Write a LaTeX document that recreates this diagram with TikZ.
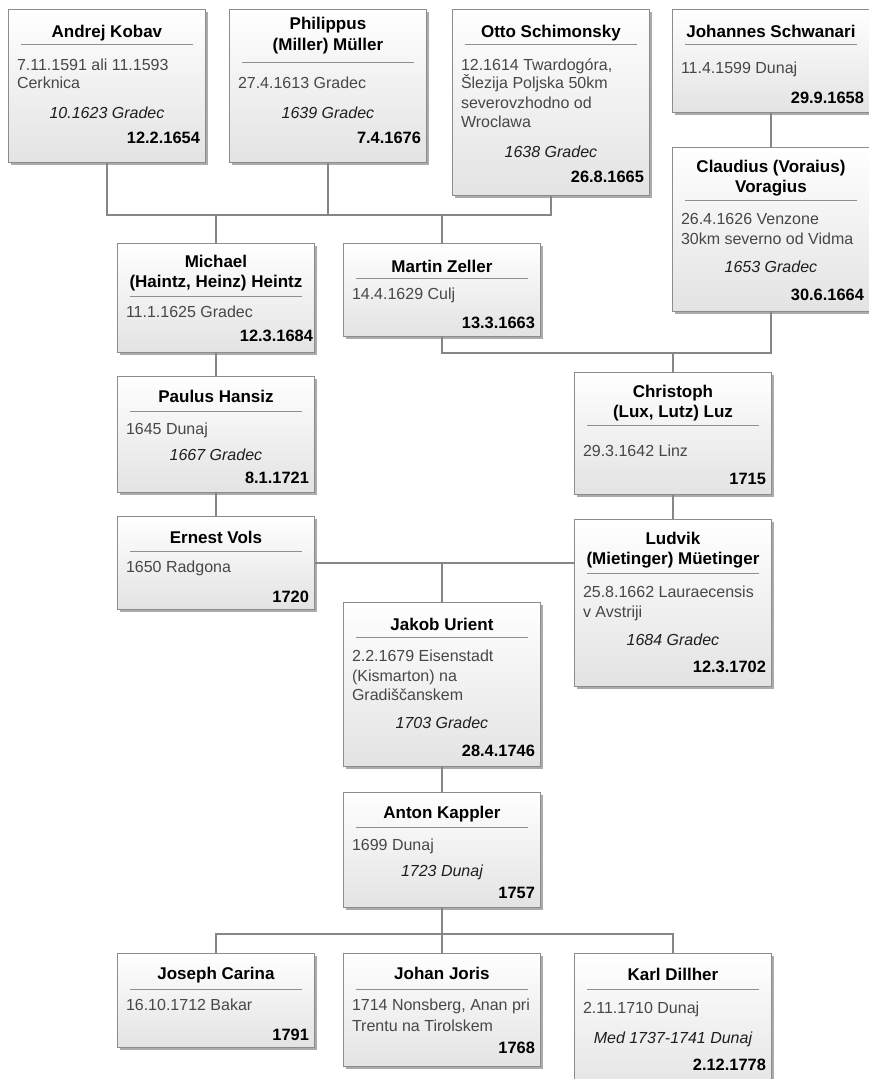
\documentclass[tikz,border=0pt]{standalone}
\usepackage{fontspec}
\setmainfont{Liberation Sans}
\usetikzlibrary{calc,shadows}
\definecolor{linec}{HTML}{868686}
\definecolor{bordc}{HTML}{8C8C8C}
\definecolor{bodyc}{HTML}{474747}
\definecolor{italc}{HTML}{1E1E1E}
\definecolor{rulec}{HTML}{8F8F8F}
\definecolor{boxbot}{HTML}{E3E3E3}
\definecolor{shadc}{HTML}{ABABAB}
\tikzset{
  pbox/.style={draw=bordc, line width=0.9pt, top color=white, bottom color=boxbot,
    minimum width=197pt, anchor=north west, inner sep=0pt,
    drop shadow={shadow xshift=2.2pt, shadow yshift=-2.2pt, fill=shadc, opacity=1}},
  txtbase/.style={inner sep=0pt, outer sep=0pt, text height=11.5pt, text depth=0pt},
  ttltxt/.style={txtbase, font=\fontsize{17}{20}\selectfont\bfseries, text=black},
  bodytxt/.style={txtbase, font=\fontsize{16}{19}\selectfont, text=bodyc, anchor=west},
  itxt/.style={txtbase, font=\fontsize{16}{19}\selectfont\itshape, text=italc},
  datetxt/.style={txtbase, font=\fontsize{16.4}{20}\selectfont\bfseries, text=black, anchor=east},
  sepline/.style={draw=rulec, line width=0.9pt},
  conn/.style={draw=linec, line width=1.2pt}
}
% #1 box, #2 suffix, #3 offset from top, #4 text
\newcommand\ptitle[4]{\node[ttltxt] (#1-#2) at ($(#1.north)+(0,#3)$) {#4};}
\newcommand\pbody[4]{\node[bodytxt] (#1-#2) at ($(#1.north west)+(9,#3)$) {#4};}
\newcommand\pital[4]{\node[itxt] (#1-#2) at ($(#1.north)+(0,#3)$) {#4};}
\newcommand\pdate[3]{\node[datetxt] (#1-d) at ($(#1.north east)+(-6,#2)$) {#3};}
\newcommand\psep[2]{\draw[sepline] ($(#1.north west)+(13,#2)$) -- ($(#1.north east)+(-13,#2)$);}
\begin{document}
\begin{tikzpicture}[x=1pt,y=-1pt]
\useasboundingbox (0,0) rectangle (869,1079);
% boxes as empty shapes first (named)
\begin{scope}
\path node[pbox, minimum height=153pt] (A) at (8,9) {}
      node[pbox, minimum height=153pt] (B) at (229,9) {}
      node[pbox, minimum height=186pt] (C) at (452,9) {}
      node[pbox, minimum height=103pt] (D) at (672,9) {}
      node[pbox, minimum height=164pt] (E) at (672,147) {}
      node[pbox, minimum height=109pt] (F) at (117,243) {}
      node[pbox, minimum height=93pt]  (G) at (343,243) {}
      node[pbox, minimum height=122pt] (H) at (574,372) {}
      node[pbox, minimum height=116pt] (I) at (117,376) {}
      node[pbox, minimum height=93pt]  (J) at (117,516) {}
      node[pbox, minimum height=167pt] (K) at (574,519) {}
      node[pbox, minimum height=164pt] (L) at (343,602) {}
      node[pbox, minimum height=115pt] (M) at (343,792) {}
      node[pbox, minimum height=94pt]  (N) at (117,953) {}
      node[pbox, minimum height=113pt] (O) at (343,953) {}
      node[pbox, minimum height=142pt] (P) at (574,953) {};
\end{scope}
% connectors
\coordinate (r1) at (0,215);
\coordinate (r2) at (0,353);
\coordinate (r3) at (0,563);
\coordinate (r4) at (0,934);
\draw[conn] (A.south) |- (C.south |- r1) -- (C.south);
\draw[conn] (B.south) -- (B.south |- r1);
\draw[conn] (F.north) -- (F.north |- r1);
\draw[conn] (G.north) -- (G.north |- r1);
\draw[conn] (D.south) -- (E.north);
\draw[conn] (G.south) |- (E.south |- r2) -- (E.south);
\draw[conn] (H.north) -- (H.north |- r2);
\draw[conn] (F.south) -- (I.north);
\draw[conn] (I.south) -- (J.north);
\draw[conn] (H.south) -- (K.north);
\draw[conn] (J.east |- r3) -- (K.west |- r3);
\draw[conn] (L.north) -- (L.north |- r3);
\draw[conn] (L.south) -- (M.north);
\draw[conn] (M.south) -- (M.south |- r4);
\draw[conn] (N.north) |- (P.north |- r4) -- (P.north);
\draw[conn] (O.north) -- (O.north |- r4);
% A
\ptitle{A}{t1}{23}{Andrej Kobav}
\psep{A}{35}
\pbody{A}{b1}{56}{7.11.1591 ali 11.1593}
\pbody{A}{b2}{74}{Cerknica}
\pital{A}{i}{104}{10.1623 Gradec}
\pdate{A}{129}{12.2.1654}
% B
\ptitle{B}{t1}{15}{Philippus}
\ptitle{B}{t2}{36}{(Miller) Müller}
\psep{B}{53}
\pbody{B}{b1}{74}{27.4.1613 Gradec}
\pital{B}{i}{104}{1639 Gradec}
\pdate{B}{129}{7.4.1676}
% C
\ptitle{C}{t1}{23}{Otto Schimonsky}
\psep{C}{35}
\pbody{C}{b1}{56}{12.1614 Twardogóra,}
\pbody{C}{b2}{74}{Šlezija Poljska 50km}
\pbody{C}{b3}{94}{severovzhodno od}
\pbody{C}{b4}{113}{Wroclawa}
\pital{C}{i}{143}{1638 Gradec}
\pdate{C}{168}{26.8.1665}
% D
\ptitle{D}{t1}{23}{Johannes Schwanari}
\psep{D}{35}
\pbody{D}{b1}{59}{11.4.1599 Dunaj}
\pdate{D}{89}{29.9.1658}
% E
\ptitle{E}{t1}{20}{Claudius (Voraius)}
\ptitle{E}{t2}{40}{Voragius}
\psep{E}{53}
\pbody{E}{b1}{72}{26.4.1626 Venzone}
\pbody{E}{b2}{92}{30km severno od Vidma}
\pital{E}{i}{120}{1653 Gradec}
\pdate{E}{148}{30.6.1664}
% F
\ptitle{F}{t1}{19}{Michael}
\ptitle{F}{t2}{39}{(Haintz, Heinz) Heintz}
\psep{F}{53}
\pbody{F}{b1}{69}{11.1.1625 Gradec}
\node[datetxt] (F-d) at ($(F.north east)+(-2,93)$) {12.3.1684};
% G
\ptitle{G}{t1}{24}{Martin Zeller}
\psep{G}{35}
\pbody{G}{b1}{51}{14.4.1629 Culj}
\pdate{G}{80}{13.3.1663}
% H
\ptitle{H}{t1}{20}{Christoph}
\ptitle{H}{t2}{40}{(Lux, Lutz) Luz}
\psep{H}{53}
\pbody{H}{b1}{79}{29.3.1642 Linz}
\pdate{H}{107}{1715}
% I
\ptitle{I}{t1}{21}{Paulus Hansiz}
\psep{I}{35}
\pbody{I}{b1}{53}{1645 Dunaj}
\pital{I}{i}{79}{1667 Gradec}
\pdate{I}{102}{8.1.1721}
% J
\ptitle{J}{t1}{22}{Ernest Vols}
\psep{J}{35}
\pbody{J}{b1}{51}{1650 Radgona}
\pdate{J}{81}{1720}
% K
\ptitle{K}{t1}{20}{Ludvik}
\ptitle{K}{t2}{40}{(Mietinger) Müetinger}
\psep{K}{54}
\pbody{K}{b1}{73}{25.8.1662 Lauraecensis}
\pbody{K}{b2}{93}{v Avstriji}
\pital{K}{i}{121}{1684 Gradec}
\pdate{K}{148}{12.3.1702}
% L
\ptitle{L}{t1}{23}{Jakob Urient}
\psep{L}{35}
\pbody{L}{b1}{54}{2.2.1679 Eisenstadt}
\pbody{L}{b2}{74}{(Kismarton) na}
\pbody{L}{b3}{93}{Gradiščanskem}
\pital{L}{i}{121}{1703 Gradec}
\pdate{L}{149}{28.4.1746}
% M
\ptitle{M}{t1}{21}{Anton Kappler}
\psep{M}{35}
\pbody{M}{b1}{53}{1699 Dunaj}
\pital{M}{i}{79}{1723 Dunaj}
\pdate{M}{101}{1757}
% N
\ptitle{N}{t1}{21}{Joseph Carina}
\psep{N}{36}
\pbody{N}{b1}{52}{16.10.1712 Bakar}
\pdate{N}{82}{1791}
% O
\ptitle{O}{t1}{21}{Johan Joris}
\psep{O}{36}
\pbody{O}{b1}{52}{1714 Nonsberg, Anan pri}
\pbody{O}{b2}{73}{Trentu na Tirolskem}
\pdate{O}{95}{1768}
% P
\ptitle{P}{t1}{22}{Karl Dillher}
\psep{P}{36}
\pbody{P}{b1}{55}{2.11.1710 Dunaj}
\pital{P}{i}{85}{Med 1737-1741 Dunaj}
\pdate{P}{112}{2.12.1778}
\end{tikzpicture}
\end{document}
